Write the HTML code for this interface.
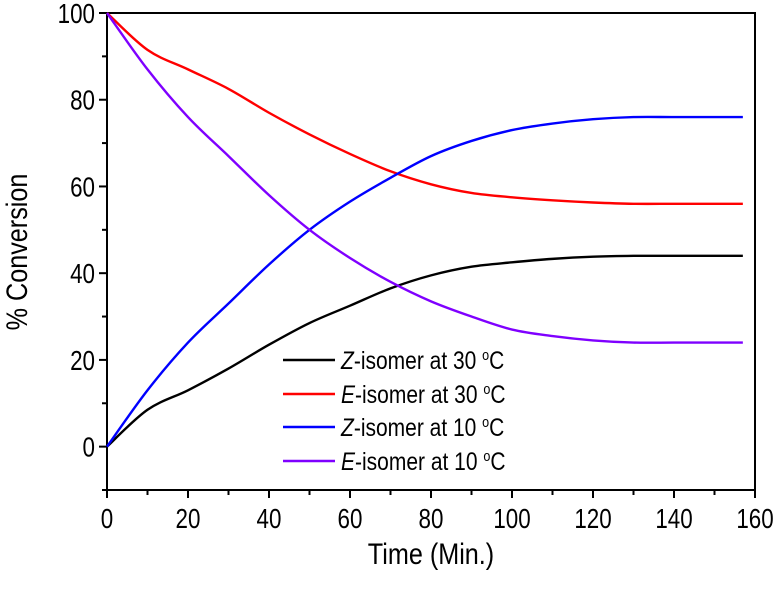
<!DOCTYPE html>
<html><head><meta charset="utf-8"><style>
body{margin:0;background:#fff}
svg{display:block;font-family:"Liberation Sans",sans-serif}
</style></head><body>
<svg id="chart" width="779" height="590" viewBox="0 0 779 590" xmlns="http://www.w3.org/2000/svg">
<g id="axes"></g><g id="series"></g><g id="legend"></g>
<g transform="translate(431,564) scale(0.84,1)"><text x="0" y="0" font-size="30" text-anchor="middle">Time (Min.)</text></g>
<g transform="translate(27,252) rotate(-90) scale(0.84,1)"><text x="0" y="0" font-size="30" text-anchor="middle">% Conversion</text></g>
</svg>
<script>
const times=[0,10,20,30,40,50,60,70,80,90,100,110,120,130,140,150,157];
const zIso30=[0,8.5,13,18,23.5,28.5,32.5,36.5,39.5,41.5,42.5,43.3,43.8,44,44,44,44];
const eIso30=[100,91.5,87,82.5,77,72,67.5,63.5,60.5,58.5,57.5,56.8,56.3,56,56,56,56];
const zIso10=[0,13,24,33,42,50,56.5,62,67,70.5,73,74.5,75.5,76,76,76,76];
const eIso10=[100,87,76,67,58,50,43.5,38,33.5,30,27,25.5,24.5,24,24,24,24];
const xTicks=[0,20,40,60,80,100,120,140,160];
const yTicks=[0,20,40,60,80,100];
const seriesNames=["Z-isomer at 30 °C","E-isomer at 30 °C","Z-isomer at 10 °C","E-isomer at 10 °C"];
const NS="http://www.w3.org/2000/svg";
const X0=107,X1=755,Y0=490,Y1=13;
const xs=t=>X0+(t/160)*(X1-X0);
const ys=v=>Y0-((v+10)/110)*(Y0-Y1);
function mk(tag,attrs,parent,text){const e=document.createElementNS(NS,tag);for(const k in attrs)e.setAttribute(k,attrs[k]);if(text!==undefined)e.textContent=text;parent.appendChild(e);return e;}
function wrap(parent,x,y){return mk('g',{transform:`translate(${x},${y}) scale(0.8,1)`},parent);}
const axes=document.getElementById('axes');
const frame=mk('rect',{x:X0,y:Y1,width:X1-X0,height:Y0-Y1,fill:'none',stroke:'#000','stroke-width':2},axes);


for(let t=0;t<=160;t+=10){const maj=t%20===0;const l=mk('line',{x1:xs(t),x2:xs(t),y1:Y0,y2:Y0+(maj?8:5),stroke:'#000','stroke-width':2},axes);

}
xTicks.forEach(t=>{const e=mk('text',{x:0,y:0,'font-size':28,'text-anchor':'middle'},wrap(axes,xs(t),Y0+38),String(t));

});
for(let v=-10;v<=100;v+=10){const maj=v%20===0;const l=mk('line',{x1:X0,x2:X0-(maj?8:5),y1:ys(v),y2:ys(v),stroke:'#000','stroke-width':2},axes);

}
yTicks.forEach(v=>{const e=mk('text',{x:0,y:0,'font-size':28,'text-anchor':'end'},wrap(axes,X0-12,ys(v)+10),String(v));

});
const data=[zIso30,eIso30,zIso10,eIso10];
const colors=['#000000','#ff0000','#0000ff','#7f00ff'];
const keys=['z-isomer-30c','e-isomer-30c','z-isomer-10c','e-isomer-10c'];
const sg=document.getElementById('series');
function pathFor(vals){const p=times.map((t,i)=>[xs(t),ys(vals[i])]);let d=`M${p[0][0]},${p[0][1]}`;
for(let i=0;i<p.length-1;i++){const p0=p[i-1]||p[i],p1=p[i],p2=p[i+1],p3=p[i+2]||p2;
d+=` C${p1[0]+(p2[0]-p0[0])/6},${p1[1]+(p2[1]-p0[1])/6} ${p2[0]-(p3[0]-p1[0])/6},${p2[1]-(p3[1]-p1[1])/6} ${p2[0]},${p2[1]}`;}return d;}
data.forEach((vals,i)=>{const e=mk('path',{d:pathFor(vals),fill:'none',stroke:colors[i],'stroke-width':2.4},sg);

});
const lg=document.getElementById('legend');
const rows=[360,394,427,461];
seriesNames.forEach((n,i)=>{const g=mk('g',{},lg);


mk('line',{x1:283,x2:335,y1:rows[i],y2:rows[i],stroke:colors[i],'stroke-width':2.5},g);
const t=mk('text',{x:0,y:0,'font-size':25},mk('g',{transform:`translate(341,${rows[i]+9}) scale(0.84,1)`},g));
mk('tspan',{'font-style':'italic'},t,n[0]);
mk('tspan',{},t,n.slice(1,n.length-3)+' ');
mk('tspan',{dy:-9,'font-size':15},t,'o');
mk('tspan',{dy:9},t,'C');});
</script>
</body></html>
